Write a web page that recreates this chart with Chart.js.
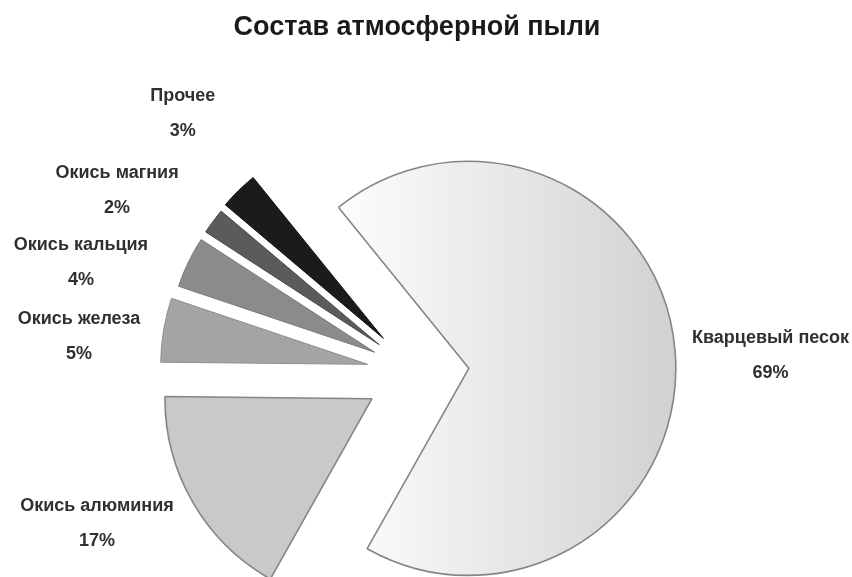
<!DOCTYPE html>
<html>
<head>
<meta charset="utf-8">
<script src="https://cdn.jsdelivr.net/npm/chart.js@4/dist/chart.umd.min.js"></script>
<style>
  html, body { margin: 0; padding: 0; background: #ffffff; }
  #wrap { width: 852px; height: 577px; }
</style>
</head>
<body>
<div id="wrap"><canvas id="c" width="852" height="577"></canvas></div>
<script>
// ---- data ----
const chartTitle = 'Состав атмосферной пыли';
const categories = ['Кварцевый песок', 'Окись алюминия', 'Окись железа', 'Окись кальция', 'Окись магния', 'Прочее'];
const shares = [69, 17, 5, 4, 2, 3];
const percentLabels = shares.map(v => v + '%');

// ---- style ----
const sliceColors = ['#e6e7e8', '#c8c9cb', '#a3a4a6', '#8a8b8d', '#5a5b5d', '#1c1a1b'];
const borderColors = ['#858585', '#858585', '#8e8e8e', '#7a7a7a', '#4a4a4a', '#111111'];
const explodePx = [52, 52, 50, 47, 47, 48];
const radiusPx = 207;
const labelReach = [302, 302, 290, 307, 304, 301];
const labelNudgeDeg = [2.3, 5.6, -4.1, -8.9, -6.2, 2.6];
const labelLineGap = 35;
const labelFont = 'bold 18px "Liberation Sans", Arial, sans-serif';

// pull each slice out of the centre along its own mid-angle
const explodeSlices = {
  id: 'explodeSlices',
  beforeDatasetsDraw(chart) {
    const area = chart.chartArea;
    const cx = (area.left + area.right) / 2;
    const cy = (area.top + area.bottom) / 2;
    chart.getDatasetMeta(0).data.forEach((arc, i) => {
      const mid = (arc.startAngle + arc.endAngle) / 2;
      arc.x = cx + Math.cos(mid) * explodePx[i];
      arc.y = cy + Math.sin(mid) * explodePx[i];
    });
  }
};

const sliceLabels = {
  id: 'sliceLabels',
  afterDatasetsDraw(chart) {
    const ctx = chart.ctx;
    ctx.save();
    ctx.font = labelFont;
    ctx.fillStyle = '#303030';
    ctx.textAlign = 'center';
    ctx.textBaseline = 'middle';
    chart.getDatasetMeta(0).data.forEach((arc, i) => {
      const mid = (arc.startAngle + arc.endAngle) / 2;
      const a = mid + labelNudgeDeg[i] * Math.PI / 180;
      const lx = arc.x + Math.cos(a) * labelReach[i];
      const ly = arc.y + Math.sin(a) * labelReach[i];
      ctx.fillText(categories[i], lx, ly - labelLineGap / 2);
      ctx.fillText(percentLabels[i], lx, ly + labelLineGap / 2);
    });
    ctx.restore();
  }
};

new Chart(document.getElementById('c'), {
  type: 'pie',
  data: {
    labels: categories,
    datasets: [{
      data: shares,
      backgroundColor: (c) => {
        const i = c.dataIndex;
        if (i === 0) {
          const area = c.chart.chartArea;
          if (!area) return sliceColors[0];
          const cx = (area.left + area.right) / 2;
          const g = c.chart.ctx.createLinearGradient(cx - 70, 0, cx + 265, 0);
          g.addColorStop(0, '#fcfcfc');
          g.addColorStop(1, '#cfd0d2');
          return g;
        }
        return sliceColors[i];
      },
      borderColor: borderColors,
      borderWidth: [1.6, 1.6, 1, 1, 1, 1],
      hoverOffset: 0,
      clip: false
    }]
  },
  options: {
    responsive: false,
    animation: false,
    rotation: -39,
    radius: radiusPx,
    layout: { padding: { left: 0, right: 18, top: 0, bottom: 0 } },
    plugins: {
      legend: { display: false },
      tooltip: { enabled: false },
      title: {
        display: true,
        text: chartTitle,
        color: '#1a1a1a',
        font: { family: '"Liberation Sans", Arial, sans-serif', size: 27, weight: 'bold' },
        padding: { top: 11, bottom: 125 }
      }
    }
  },
  plugins: [explodeSlices, sliceLabels]
});
</script>
</body>
</html>
